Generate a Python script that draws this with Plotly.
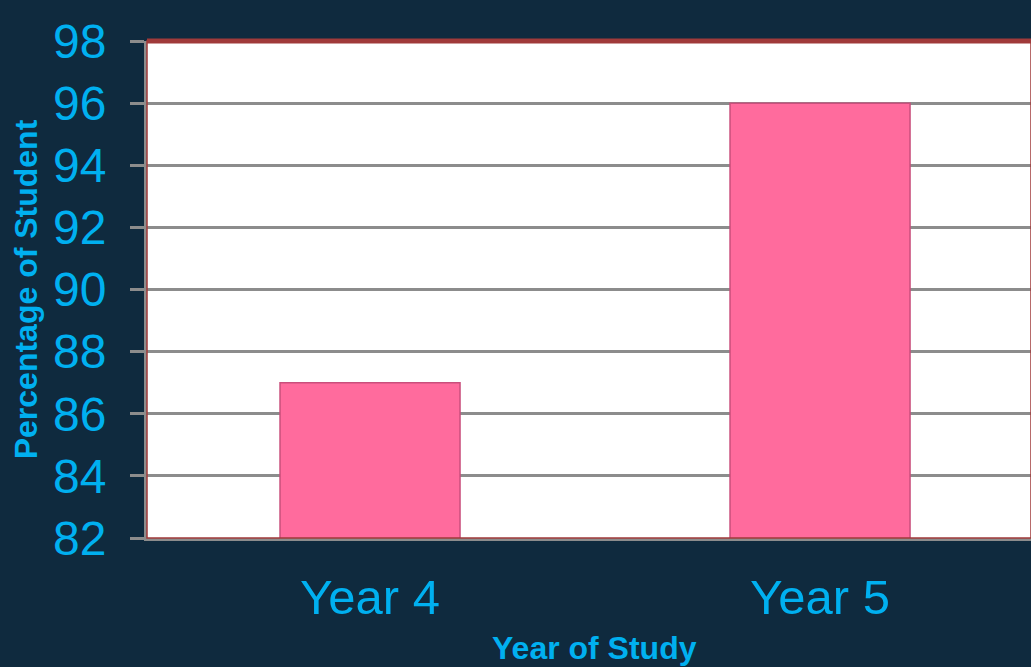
import plotly.graph_objects as go

# Survey results by year of study
years = ["Year 4", "Year 5"]
percentages = [87, 96]
y_ticks = [82, 84, 86, 88, 90, 92, 94, 96, 98]

BG = "#0f2a3e"
CYAN = "#00b0f0"
PINK = "#ff6b9d"
GRID = "#8c8c8c"
FRAME_RED = "#a03a3a"
FONT = "Liberation Sans, Arial, sans-serif"

fig = go.Figure()
fig.add_trace(go.Bar(
    x=years,
    y=percentages,
    width=0.4,
    marker=dict(color=PINK, line=dict(color="#c94f7c", width=1.5)),
    hoverinfo="x+y",
))

fig.update_layout(
    width=1031,
    height=667,
    margin=dict(l=147, r=0, t=41, b=129),
    paper_bgcolor=BG,
    plot_bgcolor="white",
    showlegend=False,
    bargap=0.6,
    font=dict(family=FONT, color=CYAN),
    xaxis=dict(
        range=[-0.4956, 1.4688],
        showgrid=False,
        showline=True,
        linecolor=GRID,
        linewidth=3,
        ticks="",
        tickfont=dict(size=49, color=CYAN),
        ticklabelstandoff=14,
        fixedrange=True,
    ),
    yaxis=dict(
        range=[82, 98],
        tickvals=y_ticks,
        showgrid=True,
        gridcolor=GRID,
        gridwidth=2.5,
        showline=True,
        linecolor=GRID,
        linewidth=3,
        ticks="outside",
        ticklen=14,
        tickwidth=2.5,
        tickcolor=GRID,
        tickfont=dict(size=48, color=CYAN),
        ticklabelstandoff=14,
        title=dict(text="<b>Percentage of Student</b>", font=dict(size=32, color=CYAN), standoff=6),
        zeroline=False,
        fixedrange=True,
    ),
)

# x-axis title, centred under the full category band
fig.add_annotation(
    text="<b>Year of Study</b>", xref="paper", yref="paper",
    x=0.5057, y=-0.2213, xanchor="center", yanchor="middle",
    showarrow=False, font=dict(size=32, color=CYAN, family=FONT),
)

# dark red frame around the plotting area, heavier along the top
fig.add_shape(type="rect", xref="paper", yref="paper", x0=0, x1=1, y0=0, y1=1,
              line=dict(color=FRAME_RED, width=1.5), layer="above")
fig.add_shape(type="line", xref="paper", yref="paper", x0=0, x1=1, y0=1, y1=1,
              line=dict(color=FRAME_RED, width=5), layer="above")

fig.write_html("out.html")
